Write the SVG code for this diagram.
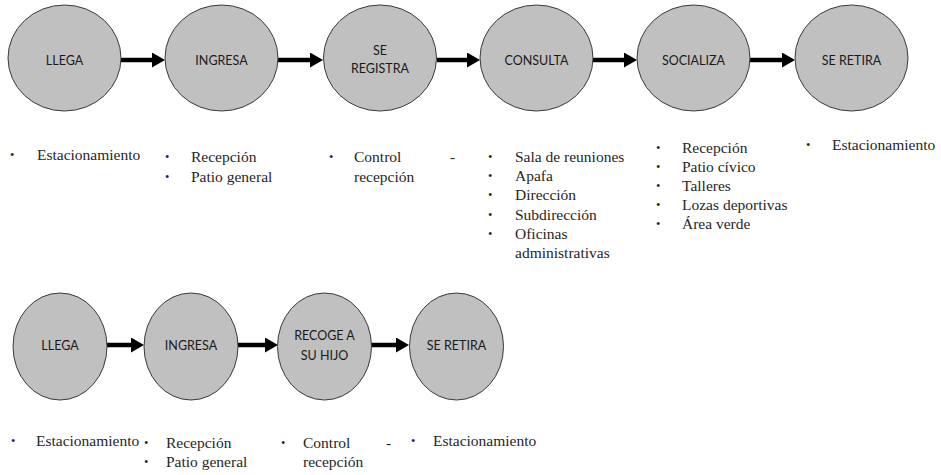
<svg xmlns="http://www.w3.org/2000/svg" width="941" height="475" viewBox="0 0 941 475">
  <style>
    .node ellipse { fill: #c0c0c0; stroke: #3a3a3a; stroke-width: 1; }
    .node text { font-family: Lato, "Open Sans", sans-serif; font-size: 12.5px; fill: #1a1a1a; text-anchor: middle; dominant-baseline: central; }
    .conn line { stroke: #000; stroke-width: 4.5; }
  </style>
  <defs>
    <marker id="head" viewBox="0 0 13 15" refX="0" refY="7.5" markerWidth="13" markerHeight="15" markerUnits="userSpaceOnUse" orient="auto">
      <path d="M0,0 L13,7.5 L0,15 Z" fill="#000"/>
    </marker>
  </defs>

  <rect width="941" height="475" fill="#fff"/>

  <!-- connectors -->
  <g id="connectors" class="conn">
    <line x1="121" y1="60" x2="152" y2="60" marker-end="url(#head)"/>
    <line x1="278" y1="60" x2="310" y2="60" marker-end="url(#head)"/>
    <line x1="437" y1="60" x2="467" y2="60" marker-end="url(#head)"/>
    <line x1="593" y1="60" x2="624" y2="60" marker-end="url(#head)"/>
    <line x1="750" y1="60" x2="782" y2="60" marker-end="url(#head)"/>
    <line x1="107" y1="345" x2="131" y2="345" marker-end="url(#head)"/>
    <line x1="238" y1="345" x2="265" y2="345" marker-end="url(#head)"/>
    <line x1="371" y1="345" x2="396" y2="345" marker-end="url(#head)"/>
  </g>

  <!-- top sequence -->
  <g id="t-llega" class="node"><ellipse cx="64.5" cy="58" rx="56.5" ry="53"/><text x="64.5" y="60">LLEGA</text></g>
  <g id="t-ingresa" class="node"><ellipse cx="221.5" cy="58" rx="56.5" ry="53"/><text x="221.5" y="60">INGRESA</text></g>
  <g id="t-registra" class="node"><ellipse cx="380" cy="58" rx="56.5" ry="53"/><text x="380" y="50">SE</text><text x="380" y="68">REGISTRA</text></g>
  <g id="t-consulta" class="node"><ellipse cx="536.5" cy="58" rx="56.5" ry="53"/><text x="536.5" y="60">CONSULTA</text></g>
  <g id="t-socializa" class="node"><ellipse cx="693.5" cy="58" rx="56.5" ry="53"/><text x="693.5" y="60">SOCIALIZA</text></g>
  <g id="t-retira" class="node"><ellipse cx="851.5" cy="58" rx="56.5" ry="53"/><text x="851.5" y="60">SE RETIRA</text></g>

  <!-- bottom sequence -->
  <g id="b-llega" class="node"><ellipse cx="60" cy="346.5" rx="47" ry="53.5"/><text x="60" y="345">LLEGA</text></g>
  <g id="b-ingresa" class="node"><ellipse cx="191" cy="346.5" rx="47" ry="53.5"/><text x="191" y="345">INGRESA</text></g>
  <g id="b-recoge" class="node"><ellipse cx="324.5" cy="346.5" rx="47" ry="53.5"/><text x="324.5" y="335">RECOGE A</text><text x="324.5" y="355">SU HIJO</text></g>
  <g id="b-retira" class="node"><ellipse cx="456.5" cy="346.5" rx="47" ry="53.5"/><text x="456.5" y="345">SE RETIRA</text></g>

  <!-- place lists, top -->
  <g id="lists-top" style="font-family: 'Liberation Serif', serif; font-size: 15.5px; fill: #262626">
    <g font-size="12.5"><text x="10" y="159">•</text><text x="165" y="161">•</text><text x="165" y="181">•</text><text x="329" y="161">•</text>
      <text x="488" y="161">•</text><text x="488" y="180">•</text><text x="488" y="199">•</text><text x="488" y="219">•</text><text x="488" y="238">•</text>
      <text x="656" y="152">•</text><text x="656" y="171">•</text><text x="656" y="190">•</text><text x="656" y="209">•</text><text x="656" y="228">•</text>
      <text x="806" y="149">•</text></g>
    <text x="37" y="160">Estacionamiento</text>
    <text x="191" y="162">Recepción</text>
    <text x="191" y="182">Patio general</text>
    <text x="354" y="162">Control</text><text x="450" y="162">-</text>
    <text x="354" y="182">recepción</text>
    <text x="515" y="162">Sala de reuniones</text>
    <text x="515" y="181">Apafa</text>
    <text x="515" y="200">Dirección</text>
    <text x="515" y="220">Subdirección</text>
    <text x="515" y="239">Oficinas</text>
    <text x="515" y="258">administrativas</text>
    <text x="682" y="153">Recepción</text>
    <text x="682" y="172">Patio cívico</text>
    <text x="682" y="191">Talleres</text>
    <text x="682" y="210">Lozas deportivas</text>
    <text x="682" y="229">Área verde</text>
    <text x="832" y="150">Estacionamiento</text>
  </g>

  <!-- place lists, bottom -->
  <g id="lists-bottom" style="font-family: 'Liberation Serif', serif; font-size: 15.5px; fill: #262626">
    <g font-size="12.5"><text x="11" y="445">•</text><text x="144" y="447">•</text><text x="144" y="466">•</text><text x="281" y="447">•</text><text x="411" y="445">•</text></g>
    <text x="36" y="446">Estacionamiento</text>
    <text x="166" y="448">Recepción</text>
    <text x="166" y="467">Patio general</text>
    <text x="303" y="448">Control</text><text x="386" y="448">-</text>
    <text x="303" y="467">recepción</text>
    <text x="433" y="446">Estacionamiento</text>
  </g>
</svg>
